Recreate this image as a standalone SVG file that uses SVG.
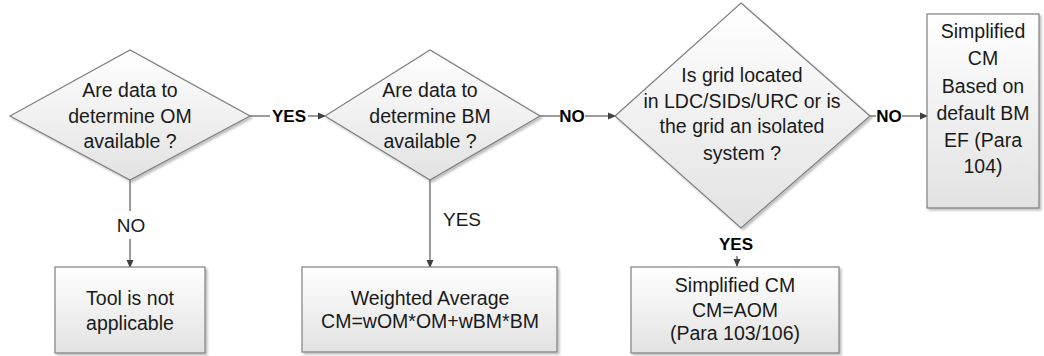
<svg xmlns="http://www.w3.org/2000/svg" width="1044" height="356" viewBox="0 0 1044 356">
<defs>
<linearGradient id="g" x1="0" y1="0" x2="0" y2="1">
<stop offset="0" stop-color="#ffffff"/>
<stop offset="1" stop-color="#e2e2e2"/>
</linearGradient>
<marker id="arr" markerWidth="8" markerHeight="8" refX="7" refY="4" orient="auto" markerUnits="userSpaceOnUse">
<path d="M0,0.5 L8,4 L0,7.5 Z" fill="#404040"/>
</marker>
<filter id="sh" x="-10%" y="-10%" width="130%" height="130%">
<feDropShadow dx="2" dy="2" stdDeviation="1" flood-color="#000" flood-opacity="0.25"/>
</filter>
</defs>
<style>
.n{fill:url(#g);stroke:#7f7f7f;stroke-width:1.2;filter:url(#sh)}
.t{font-family:"Liberation Sans",Arial,sans-serif;font-size:19.5px;fill:#1a1a1a;text-anchor:middle}
.c{stroke:#595959;stroke-width:1.2;fill:none}
.lb{font-family:"Liberation Sans",Arial,sans-serif;font-size:17px;font-weight:bold;fill:#000;text-anchor:middle}
.lp{font-family:"Liberation Sans",Arial,sans-serif;font-size:19px;fill:#1a1a1a;text-anchor:middle}
</style>
<rect width="1044" height="356" fill="#fff"/>
<g id="connectors">
<line class="c" x1="250" y1="116" x2="270" y2="116"/>
<line class="c" x1="308" y1="116" x2="325" y2="116" marker-end="url(#arr)"/>
<text class="lb" x="289" y="122">YES</text>
<line class="c" x1="540" y1="116" x2="560" y2="116"/>
<line class="c" x1="585" y1="116" x2="615" y2="116" marker-end="url(#arr)"/>
<text class="lb" x="572" y="122">NO</text>
<line class="c" x1="870" y1="116" x2="876" y2="116"/>
<line class="c" x1="902" y1="116" x2="927" y2="116" marker-end="url(#arr)"/>
<text class="lb" x="889" y="122">NO</text>
<line class="c" x1="130" y1="180" x2="130" y2="211"/>
<line class="c" x1="130" y1="239" x2="130" y2="267" marker-end="url(#arr)"/>
<text class="lp" x="131" y="232">NO</text>
<line class="c" x1="430" y1="180" x2="430" y2="267" marker-end="url(#arr)"/>
<text class="lp" x="462" y="226">YES</text>
<line class="c" x1="737" y1="256" x2="737" y2="266" marker-end="url(#arr)"/>
<text class="lb" x="736" y="250">YES</text>
</g>
<g id="d1">
<polygon class="n" points="10,116 130,50 250,116 130,180"/>
<text class="t" x="130" y="97">Are data to</text>
<text class="t" x="130" y="123">determine OM</text>
<text class="t" x="130" y="148">available ?</text>
</g>
<g id="d2">
<polygon class="n" points="325,116 430,50 540,116 430,180"/>
<text class="t" x="430" y="97">Are data to</text>
<text class="t" x="430" y="123">determine BM</text>
<text class="t" x="430" y="148">available ?</text>
</g>
<g id="d3">
<polygon class="n" points="615,116 741,3 870,116 741,228"/>
<text class="t" x="742" y="82">Is grid located</text>
<text class="t" x="742" y="108">in LDC/SIDs/URC or is</text>
<text class="t" x="742" y="133">the grid an isolated</text>
<text class="t" x="742" y="160">system ?</text>
</g>
<g id="b4">
<rect class="n" x="927" y="14" width="112" height="194"/>
<text class="t" x="983" y="38">Simplified</text>
<text class="t" x="983" y="65">CM</text>
<text class="t" x="983" y="93">Based on</text>
<text class="t" x="983" y="120">default BM</text>
<text class="t" x="983" y="147">EF (Para</text>
<text class="t" x="983" y="173">104)</text>
</g>
<g id="b1">
<rect class="n" x="55" y="267" width="150" height="86"/>
<text class="t" x="130" y="305">Tool is not</text>
<text class="t" x="130" y="330">applicable</text>
</g>
<g id="b2">
<rect class="n" x="302" y="267" width="255" height="85"/>
<text class="t" x="430" y="305">Weighted Average</text>
<text class="t" x="430" y="328">CM=wOM*OM+wBM*BM</text>
</g>
<g id="b3">
<rect class="n" x="631" y="267" width="208" height="86"/>
<text class="t" x="735" y="292">Simplified CM</text>
<text class="t" x="735" y="317">CM=AOM</text>
<text class="t" x="735" y="340">(Para 103/106)</text>
</g>
</svg>
